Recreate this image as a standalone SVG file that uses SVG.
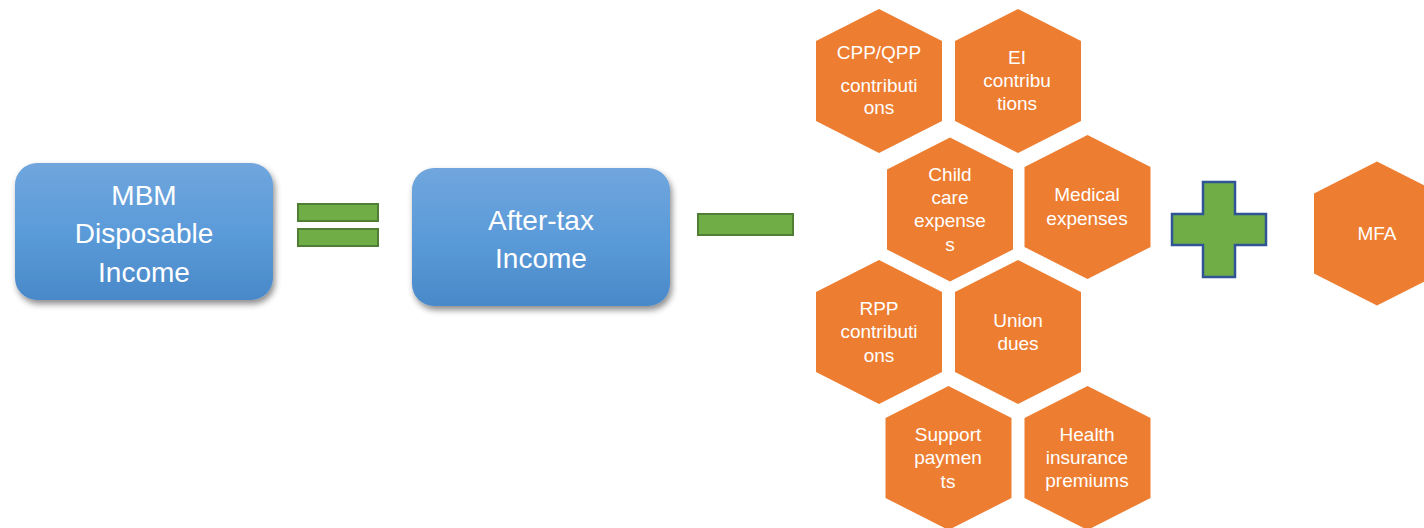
<svg xmlns="http://www.w3.org/2000/svg" xmlns:xlink="http://www.w3.org/1999/xlink" width="1424" height="528" viewBox="0 0 1424 528">
  <defs>
    <linearGradient id="blueGrad" x1="0" y1="0" x2="0" y2="1">
      <stop offset="0" stop-color="#70a6dd"/>
      <stop offset="0.5" stop-color="#5b9bd9"/>
      <stop offset="1" stop-color="#4a89c9"/>
    </linearGradient>
    <filter id="shadow" x="-10%" y="-10%" width="125%" height="130%">
      <feDropShadow dx="2" dy="4" stdDeviation="3" flood-color="#000" flood-opacity="0.45"/>
    </filter>
    <polygon id="hex" points="0,-72 63,-40 63,40 0,72 -63,40 -63,-40"/>
  </defs>
  <style>
    .box { fill: url(#blueGrad); filter: url(#shadow); }
    .boxtxt { font-family: "Liberation Sans", Arial, sans-serif; font-size: 28px; fill: #ffffff; text-anchor: middle; }
    .hexshape { fill: #ed7d31; }
    .hextxt { font-family: "Liberation Sans", Arial, sans-serif; font-size: 19px; fill: #ffffff; text-anchor: middle; }
    .opg { fill: #70ad47; stroke: #507e32; stroke-width: 2; }
    .plus { fill: #70ad47; stroke: #2f5597; stroke-width: 2.5; }
  </style>
  <rect width="1424" height="528" fill="#ffffff"/>

  <g id="mbm-disposable-income">
    <rect class="box" x="15" y="163" width="258" height="137" rx="22" ry="22"/>
    <text class="boxtxt" x="144" y="205">MBM</text>
    <text class="boxtxt" x="144" y="243">Disposable</text>
    <text class="boxtxt" x="144" y="282">Income</text>
  </g>

  <g id="connectors">
    <g id="equals">
      <rect class="opg" x="298" y="204" width="80" height="17"/>
      <rect class="opg" x="298" y="229" width="80" height="17"/>
    </g>
    <g id="minus">
      <rect class="opg" x="698" y="214" width="95" height="21"/>
    </g>
    <g id="plus">
      <path class="plus" d="M1203,182 H1235 V214 H1266 V245 H1235 V277 H1203 V245 H1172 V214 H1203 Z"/>
    </g>
  </g>

  <g id="after-tax-income">
    <rect class="box" x="412" y="168" width="258" height="138" rx="22" ry="22"/>
    <text class="boxtxt" x="541" y="230">After-tax</text>
    <text class="boxtxt" x="541" y="268">Income</text>
  </g>

  <g id="cpp-qpp">
    <use xlink:href="#hex" class="hexshape" x="879" y="81"/>
    <text class="hextxt" x="879" y="59">CPP/QPP</text>
    <text class="hextxt" x="879" y="92">contributi</text>
    <text class="hextxt" x="879" y="114">ons</text>
  </g>

  <g id="ei">
    <use xlink:href="#hex" class="hexshape" x="1018" y="81"/>
    <text class="hextxt" x="1017" y="64">EI</text>
    <text class="hextxt" x="1017" y="87">contribu</text>
    <text class="hextxt" x="1017" y="110">tions</text>
  </g>

  <g id="child-care">
    <use xlink:href="#hex" class="hexshape" x="950" y="209.5"/>
    <text class="hextxt" x="950" y="180.5">Child</text>
    <text class="hextxt" x="950" y="204">care</text>
    <text class="hextxt" x="950" y="227">expense</text>
    <text class="hextxt" x="950" y="250.5">s</text>
  </g>

  <g id="medical">
    <use xlink:href="#hex" class="hexshape" x="1087.5" y="207"/>
    <text class="hextxt" x="1087" y="201">Medical</text>
    <text class="hextxt" x="1087" y="225">expenses</text>
  </g>

  <g id="rpp">
    <use xlink:href="#hex" class="hexshape" x="879" y="332"/>
    <text class="hextxt" x="879" y="315">RPP</text>
    <text class="hextxt" x="879" y="338">contributi</text>
    <text class="hextxt" x="879" y="361.5">ons</text>
  </g>

  <g id="union-dues">
    <use xlink:href="#hex" class="hexshape" x="1018" y="332"/>
    <text class="hextxt" x="1018" y="326.5">Union</text>
    <text class="hextxt" x="1018" y="350">dues</text>
  </g>

  <g id="support">
    <use xlink:href="#hex" class="hexshape" x="948.5" y="458"/>
    <text class="hextxt" x="948" y="441">Support</text>
    <text class="hextxt" x="948" y="464">paymen</text>
    <text class="hextxt" x="948" y="487.5">ts</text>
  </g>

  <g id="health">
    <use xlink:href="#hex" class="hexshape" x="1087.5" y="458"/>
    <text class="hextxt" x="1087" y="441">Health</text>
    <text class="hextxt" x="1087" y="464">insurance</text>
    <text class="hextxt" x="1087" y="487">premiums</text>
  </g>

  <g id="mfa">
    <use xlink:href="#hex" class="hexshape" x="1377" y="233.5"/>
    <text class="hextxt" x="1377" y="239.5">MFA</text>
  </g>
</svg>
